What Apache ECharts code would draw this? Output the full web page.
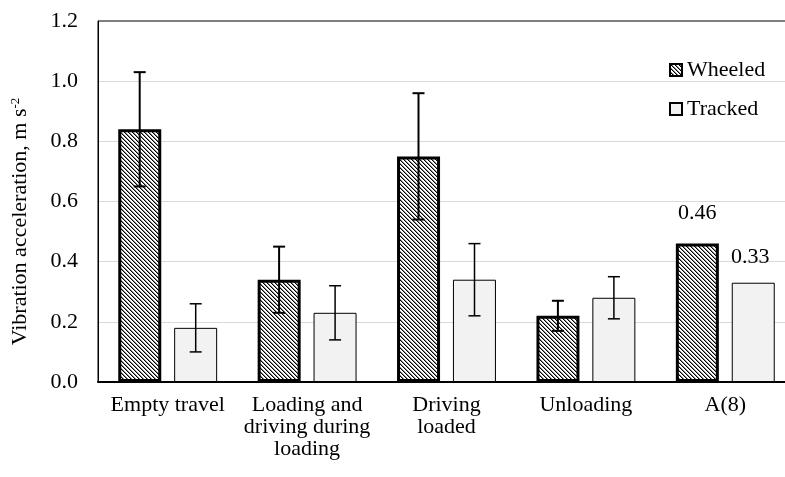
<!DOCTYPE html>
<html>
<head>
<meta charset="utf-8">
<script src="https://cdn.jsdelivr.net/npm/echarts@6/dist/echarts.min.js"></script>
<style>
html, body { margin: 0; padding: 0; background: #fff; }
#chart { width: 785px; height: 477px; }
</style>
</head>
<body>
<div id="chart"></div>
<script>
var categories = ['Empty travel', 'Loading and\ndriving during\nloading', 'Driving\nloaded', 'Unloading', 'A(8)']
var wheeled = [0.84, 0.34, 0.75, 0.22, 0.46]
var tracked = [0.18, 0.23, 0.34, 0.28, 0.33]
// half-width of the error bars (null = none drawn)
var wheeledErr = [0.19, 0.11, 0.21, 0.05, null]
var trackedErr = [0.08, 0.09, 0.12, 0.07, null]

var serif = 'Liberation Serif'

// diagonal hatch for the wheeled bars
function hatch() {
  var c = document.createElement('canvas')
  c.width = 4
  c.height = 4
  var ctx = c.getContext('2d')
  ctx.fillStyle = '#fff'
  ctx.fillRect(0, 0, 4, 4)
  for (var i = 0; i < 4; i++) {
    ctx.fillStyle = '#000'
    ctx.fillRect(i, i, 1, 1)
    ctx.fillStyle = '#888'
    ctx.fillRect((i + 1) % 4, i, 1, 1)
  }
  return c
}

function errData(vals, errs) {
  var out = []
  for (var i = 0; i < vals.length; i++) {
    if (errs[i] != null) out.push([i, vals[i] - errs[i], vals[i] + errs[i]])
  }
  return out
}

function errRender(offset, lw) {
  return function(params, api) {
    var x = api.coord([api.value(0), 0])[0] + offset
    var lo = api.coord([api.value(0), api.value(1)])[1]
    var hi = api.coord([api.value(0), api.value(2)])[1]
    var st = { stroke: '#000', lineWidth: lw }
    return {
      type: 'group',
      children: [
        { type: 'line', shape: { x1: x, y1: hi, x2: x, y2: lo }, style: st },
        { type: 'line', shape: { x1: x - 6, y1: hi, x2: x + 6, y2: hi }, style: st },
        { type: 'line', shape: { x1: x - 6, y1: lo, x2: x + 6, y2: lo }, style: st }
      ]
    }
  }
}

var chart = echarts.init(document.getElementById('chart'))
chart.setOption({
  animation: false,
  textStyle: { fontFamily: serif, color: '#000' },
  grid: {
    left: 98,
    top: 21,
    width: 697,
    height: 361,
    outerBoundsMode: 'none',
    containLabel: false,
    show: true,
    borderColor: '#000',
    borderWidth: 1
  },
  legend: {
    orient: 'vertical',
    left: 664,
    top: 54,
    icon: 'rect',
    itemWidth: 12,
    itemHeight: 12,
    itemGap: 17,
    textStyle: { fontFamily: serif, fontSize: 22, color: '#000' },
    data: ['Wheeled', 'Tracked']
  },
  xAxis: {
    type: 'category',
    data: categories,
    axisLine: { lineStyle: { color: '#000', width: 2 } },
    axisTick: { show: false },
    axisLabel: {
      interval: 0,
      margin: 12,
      fontFamily: serif,
      fontSize: 22,
      lineHeight: 22,
      color: '#000'
    }
  },
  yAxis: {
    type: 'value',
    min: 0,
    max: 1.2,
    interval: 0.2,
    name: 'Vibration acceleration, m s{sup|-2}',
    nameLocation: 'middle',
    nameGap: 66,
    nameTextStyle: {
      fontFamily: serif,
      fontSize: 22,
      color: '#000',
      padding: [0, 40, 0, 0],
      rich: { sup: { fontFamily: serif, fontSize: 13, color: '#000', padding: [0, 0, 10, 0] } }
    },
    axisLine: { show: true, lineStyle: { color: '#000', width: 1 } },
    axisTick: { show: false },
    splitLine: { showMaxLine: false, lineStyle: { color: '#d9d9d9', width: 1 } },
    axisLabel: {
      margin: 20,
      fontFamily: serif,
      fontSize: 22,
      color: '#000',
      formatter: function(v) { return v.toFixed(1) }
    }
  },
  series: [
    {
      name: 'Wheeled',
      type: 'bar',
      barWidth: 43,
      barGap: '30%',
      data: wheeled.map(function(v, i) {
        return i === 4 ? { value: v, label: { show: true } } : v
      }),
      itemStyle: { color: { image: hatch(), repeat: 'repeat' }, borderColor: '#000', borderWidth: 3 },
      label: {
        show: false,
        position: 'top',
        distance: 19,
        fontFamily: serif,
        fontSize: 22,
        color: '#000',
        formatter: function(p) { return p.value.toFixed(2) }
      }
    },
    {
      name: 'Tracked',
      type: 'bar',
      barWidth: 43,
      data: tracked.map(function(v, i) {
        return i === 4 ? { value: v, label: { show: true } } : v
      }),
      itemStyle: { color: '#f2f2f2', borderColor: '#000', borderWidth: 1 },
      label: {
        show: false,
        position: 'top',
        distance: 15,
        offset: [-3, 0],
        fontFamily: serif,
        fontSize: 22,
        color: '#000',
        formatter: function(p) { return p.value.toFixed(2) }
      }
    },
    {
      type: 'custom',
      z: 5,
      renderItem: errRender(-28, 2),
      encode: { x: 0, y: [1, 2] },
      data: errData(wheeled, wheeledErr)
    },
    {
      type: 'custom',
      z: 5,
      renderItem: errRender(28, 1.5),
      encode: { x: 0, y: [1, 2] },
      data: errData(tracked, trackedErr)
    }
  ]
})
</script>
</body>
</html>
